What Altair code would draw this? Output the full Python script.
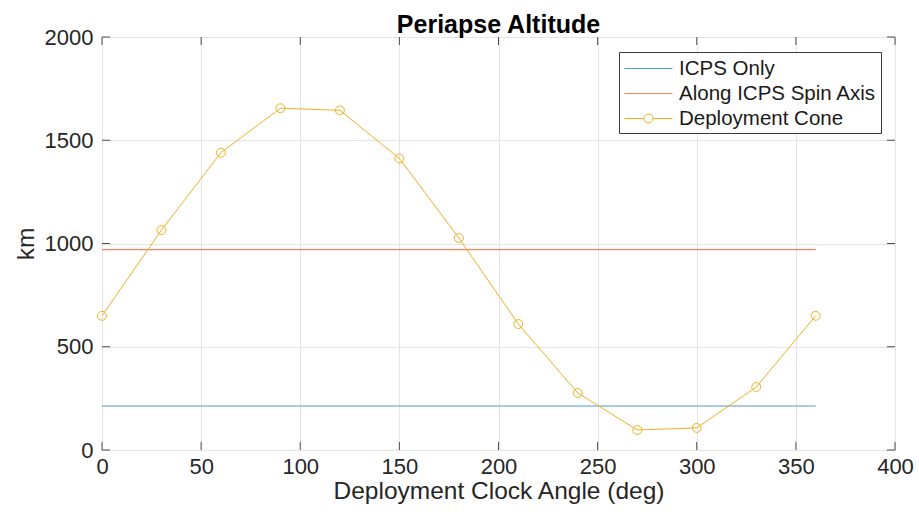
import altair as alt
import pandas as pd

# ---- data ----
angles = [0, 30, 60, 90, 120, 150, 180, 210, 240, 270, 300, 330, 360]
cone_km = [650, 1065, 1440, 1655, 1645, 1412, 1027, 610, 276, 97, 107, 305, 650]
flat_angles = [0, 360]
icps_only_km = 213
spin_axis_km = 970

series_names = ["ICPS Only", "Along ICPS Spin Axis", "Deployment Cone"]
series_colors = ["#4d9acb", "#f2855a", "#EDB120"]
x_ticks = [0, 50, 100, 150, 200, 250, 300, 350, 400]
y_ticks = [0, 500, 1000, 1500, 2000]

W, H = 793, 413
FONT = "Liberation Sans"
TXT = "#262626"

cone_df = pd.DataFrame({"angle": angles, "km": cone_km, "series": series_names[2]})
flat_df = pd.DataFrame({
    "angle": flat_angles * 2,
    "km": [icps_only_km] * 2 + [spin_axis_km] * 2,
    "series": [series_names[0]] * 2 + [series_names[1]] * 2,
})
xt_df = pd.DataFrame({"angle": x_ticks})
yt_df = pd.DataFrame({"km": y_ticks})

X_TITLE = "Deployment Clock Angle (deg)"
Y_TITLE = "km"

def xenc():
    return alt.X("angle:Q", scale=alt.Scale(domain=[0, 400], nice=False),
                 axis=alt.Axis(values=x_ticks, title=X_TITLE, labelPadding=6, format="d",
                               titleBaseline="alphabetic", titleY=48))

def yenc():
    return alt.Y("km:Q", scale=alt.Scale(domain=[0, 2000], nice=False),
                 axis=alt.Axis(values=y_ticks, title=Y_TITLE, labelPadding=9, format="d",
                               titleX=-69, titleY=H / 2, titleAngle=-90,
                               titleBaseline="alphabetic"))

line_icps = alt.Chart(flat_df).transform_filter(
    alt.datum.series == series_names[0]
).mark_line(color=series_colors[0], strokeWidth=1).encode(x=xenc(), y=yenc())

line_spin = alt.Chart(flat_df).transform_filter(
    alt.datum.series == series_names[1]
).mark_line(color=series_colors[1], strokeWidth=1.2).encode(x=xenc(), y=yenc())

cone_line = alt.Chart(cone_df).mark_line(color=series_colors[2], strokeWidth=1).encode(
    x=xenc(), y=yenc())

cone_pts = alt.Chart(cone_df).mark_point(
    shape="circle", filled=False, color=series_colors[2], size=80, strokeWidth=1, opacity=1
).encode(x=xenc(), y=yenc())

line_path = "M-2,0L2,0"
cone_path = ("M-2,0L-0.38,0M0.38,0L2,0M-0.38,0A0.38,0.38 0 1 1 0.38,0"
             "A0.38,0.38 0 1 1 -0.38,0")

legend_layer = alt.Chart(cone_df).transform_filter("false").mark_point(
    filled=False, strokeWidth=1, opacity=1
).encode(
    x=xenc(), y=yenc(),
    color=alt.Color("series:N", title=None,
                    scale=alt.Scale(domain=series_names, range=series_colors),
                    legend=alt.Legend(title=None)),
    shape=alt.Shape("series:N", title=None,
                    scale=alt.Scale(domain=series_names,
                                    range=[line_path, line_path, cone_path]),
                    legend=alt.Legend(title=None)),
)

tick_len = 8
xt_bottom = alt.Chart(xt_df).mark_rule(color="#4d4d4d", strokeWidth=1).encode(
    x=xenc(), y=alt.value(H), y2=alt.value(H - tick_len))
xt_top = alt.Chart(xt_df).mark_rule(color="#4d4d4d", strokeWidth=1).encode(
    x=xenc(), y=alt.value(0), y2=alt.value(tick_len))
yt_left = alt.Chart(yt_df).mark_rule(color="#4d4d4d", strokeWidth=1).encode(
    y=yenc(), x=alt.value(0), x2=alt.value(tick_len))
yt_right = alt.Chart(yt_df).mark_rule(color="#4d4d4d", strokeWidth=1).encode(
    y=yenc(), x=alt.value(W), x2=alt.value(W - tick_len))

chart = alt.layer(
    line_icps, line_spin, cone_line, cone_pts, legend_layer,
    xt_bottom, xt_top, yt_left, yt_right,
).properties(
    width=W, height=H,
    autosize=alt.AutoSizeParams(type="none"),
    padding={"left": 102, "top": 37, "right": 24, "bottom": 71},
    title=alt.TitleParams("Periapse Altitude", font=FONT, fontSize=25, fontWeight="bold",
                          color="#000000", anchor="middle", frame="group", offset=-12),
).configure_view(
    stroke="#6e6e6e", strokeWidth=1, fill="white"
).configure(
    background="white"
).configure_axis(
    labelFont=FONT, labelFontSize=22, labelColor=TXT,
    titleFont=FONT, titleFontSize=24.5, titleFontWeight="normal", titleColor=TXT,
    ticks=False, domain=False, grid=True, gridColor="#e4e4e4", gridWidth=1,
    labelFlush=False, labelOverlap=False,
).configure_legend(
    orient="none", legendX=517, legendY=15,
    strokeColor="#3a3a3a", fillColor="white", padding=4, cornerRadius=0,
    labelFont=FONT, labelFontSize=20.5, labelColor="#1a1a1a", labelLimit=400,
    symbolSize=576, symbolStrokeWidth=1, symbolOffset=13, labelOffset=18,
    rowPadding=2, symbolFillColor="transparent",
)

chart.save("out.html", embed_options={"renderer": "svg", "actions": False})
